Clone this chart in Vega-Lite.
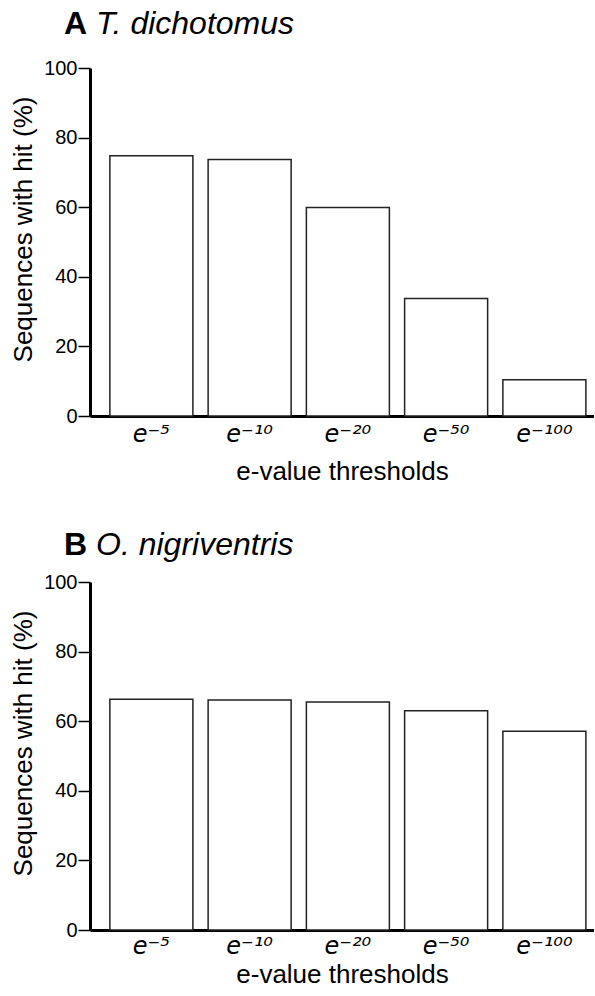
{
  "$schema": "https://vega.github.io/schema/vega-lite/v6.json",
  "background": "white",
  "padding": {"left": 10, "top": 8, "right": 0, "bottom": 0},
  "spacing": 45,
  "config": {
    "view": {"stroke": null},
    "font": "Liberation Sans",
    "axis": {
      "domainColor": "black",
      "domainWidth": 3,
      "tickColor": "black",
      "tickWidth": 1.5,
      "labelColor": "black",
      "titleColor": "black",
      "titleFontWeight": "normal",
      "grid": false
    },
    "axisY": {
      "tickSize": 12,
      "labelFontSize": 20,
      "labelPadding": 1,
      "titleFontSize": 26,
      "titlePadding": 7,
      "titleY": 161
    },
    "axisX": {
      "ticks": false,
      "labelAngle": 0,
      "labelFont": "DejaVu Sans",
      "labelFontSize": 24,
      "labelFontStyle": "italic",
      "labelPadding": 6,
      "titleFontSize": 26,
      "titlePadding": 12
    },
    "title": {
      "anchor": "start",
      "frame": "group",
      "fontSize": 32,
      "fontWeight": "bold",
      "color": "black",
      "subtitleFontSize": 32,
      "subtitleFontStyle": "italic",
      "subtitleColor": "black",
      "subtitlePadding": -32,
      "dx": -26
    }
  },
  "datasets": {
    "A": [
      {"threshold": "e\u207b\u2075", "percent": 74.8},
      {"threshold": "e\u207b\u00b9\u2070", "percent": 73.7},
      {"threshold": "e\u207b\u00b2\u2070", "percent": 59.9},
      {"threshold": "e\u207b\u2075\u2070", "percent": 33.8},
      {"threshold": "e\u207b\u00b9\u2070\u2070", "percent": 10.4}
    ],
    "B": [
      {"threshold": "e\u207b\u2075", "percent": 66.3},
      {"threshold": "e\u207b\u00b9\u2070", "percent": 66.1},
      {"threshold": "e\u207b\u00b2\u2070", "percent": 65.5},
      {"threshold": "e\u207b\u2075\u2070", "percent": 63.0},
      {"threshold": "e\u207b\u00b9\u2070\u2070", "percent": 57.1}
    ]
  },
  "vconcat": [
    {
      "width": 504,
      "height": 348,
      "title": {"text": "A", "subtitle": "\u200b\u2003T. dichotomus", "offset": 17},
      "data": {"name": "A"},
      "mark": {"type": "bar", "fill": "white", "stroke": "#222222", "strokeWidth": 1.5},
      "encoding": {
        "x": {"field": "threshold", "type": "nominal", "sort": null,
              "scale": {"paddingInner": 0.155, "paddingOuter": 0.1425, "align": 0.71},
              "axis": {"title": "e-value thresholds"}},
        "y": {"field": "percent", "type": "quantitative",
              "scale": {"domain": [0, 100]},
              "axis": {"values": [0, 20, 40, 60, 80, 100], "title": "Sequences with hit (%)"}}
      }
    },
    {
      "width": 504,
      "height": 348,
      "title": {"text": "B", "subtitle": "\u200b\u2003O. nigriventris", "offset": 10},
      "data": {"name": "B"},
      "mark": {"type": "bar", "fill": "white", "stroke": "#222222", "strokeWidth": 1.5},
      "encoding": {
        "x": {"field": "threshold", "type": "nominal", "sort": null,
              "scale": {"paddingInner": 0.155, "paddingOuter": 0.1425, "align": 0.71},
              "axis": {"title": "e-value thresholds", "labelPadding": 4, "titlePadding": 3}},
        "y": {"field": "percent", "type": "quantitative",
              "scale": {"domain": [0, 100]},
              "axis": {"values": [0, 20, 40, 60, 80, 100], "title": "Sequences with hit (%)"}}
      }
    }
  ]
}
